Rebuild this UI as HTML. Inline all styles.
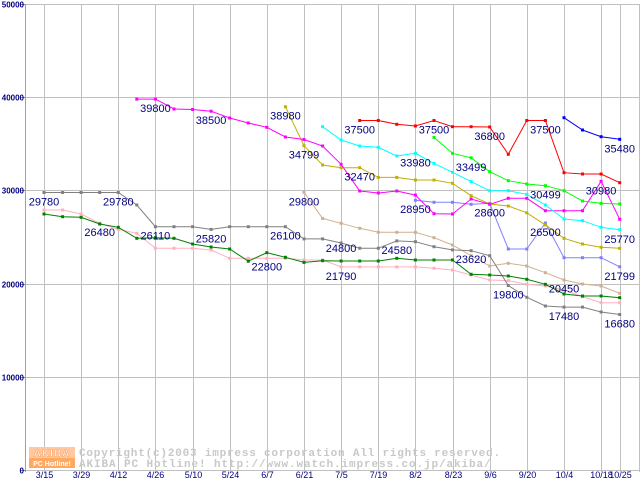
<!DOCTYPE html>
<html><head><meta charset="utf-8"><style>
html,body{margin:0;padding:0;background:#fff;}
svg{display:block;}
</style></head><body>
<svg id="chart" width="640" height="480" viewBox="0 0 640 480" xmlns="http://www.w3.org/2000/svg">
<rect x="0" y="0" width="640" height="480" fill="#fff"/>
<g id="grid"></g>
<g id="yaxis"></g>
<g id="xaxis"></g>
<g id="watermark">
  <rect x="29" y="447" width="46" height="11" fill="#ffc8a0"/>
  <rect x="29" y="458" width="46" height="10" fill="#ffa860"/>
  <text x="52" y="456.5" font-family="Liberation Sans, sans-serif" font-size="10" font-weight="bold" fill="#fff" stroke="#ff9a50" stroke-width="0.5" text-anchor="middle" letter-spacing="1">AKIBA</text>
  <text x="52" y="466" font-family="Liberation Sans, sans-serif" font-size="7" font-weight="bold" fill="#fff" text-anchor="middle">PC Hotline!</text>
  <text x="79" y="456" font-family="Liberation Mono, monospace" font-size="11" font-weight="bold" fill="#c8c8c8" letter-spacing="0.8">Copyright(c)2003 impress corporation All rights reserved.</text>
  <text x="79" y="467" font-family="Liberation Mono, monospace" font-size="11" font-weight="bold" fill="#c8c8c8" letter-spacing="0.9">AKIBA PC Hotline!  http://www.watch.impress.co.jp/akiba/</text>
</g>
<g id="series"></g>
<g id="labels"></g>
</svg>
<script>
const yTicks = [0, 10000, 20000, 30000, 40000, 50000];
const xTickIdx = [0,2,4,6,8,10,12,14,16,18,20,22,24,26,28,30,31];
const xTickLabels = ['3/15','3/29','4/12','4/26','5/10','5/24','6/7','6/21','7/5','7/19','8/2','8/23','9/6','9/20','10/4','10/18','10/25'];

const grayStart = 0;
const grayValues = [29780,29780,29780,29780,29780,28430,26110,26110,26110,25820,26110,26110,26110,26100,24800,24800,24360,23800,23800,24580,24500,23960,23620,23530,22990,19800,18530,17600,17480,17480,16950,16680];
const greenStart = 0;
const greenValues = [27470,27180,27110,26390,26040,24860,24930,24860,24250,23930,23710,22400,23320,22820,22280,22460,22420,22420,22420,22710,22530,22530,22530,21000,20920,20820,20460,19920,18880,18670,18670,18490];
const pinkStart = 0;
const pinkValues = [27900,27900,27470,26470,25820,25400,23790,23790,23790,23600,22710,22710,22710,22710,22530,22530,21790,21790,21790,21790,21790,21640,21460,20920,20390,20320,19920,19740,19310,18600,17950,17950];
const magentaStart = 5;
const magentaValues = [39800,39800,38730,38680,38500,37770,37230,36770,35730,35460,34760,32800,29940,29720,29940,29500,27500,27470,29080,28510,29150,29150,27820,27820,27820,30980,26900];
const oliveStart = 13;
const oliveValues = [38980,34799,32720,32440,32440,31400,31400,31120,31120,30760,29430,28540,28330,27600,26300,24860,24250,23900,23790];
const tanStart = 14;
const tanValues = [29800,27000,26470,25930,25500,25500,25500,24930,24140,23000,21890,22180,21890,21170,20390,19960,19740,18960];
const cyanStart = 15;
const cyanValues = [36840,35410,34760,34620,33690,33980,32900,31940,30940,29970,29970,29580,28430,26930,26750,26040,25770];
const redStart = 17;
const redValues = [37500,37500,37090,36910,37500,36840,36840,36800,33870,37500,37500,31900,31760,31760,30830];
const limeStart = 21;
const limeValues = [35690,33980,33499,32010,31040,30690,30499,29970,28860,28610,28540];
const slateStart = 20;
const slateValues = [28950,28720,28720,28510,28600,23710,23710,26500,22780,22780,22780,21799];
const blueStart = 28;
const blueValues = [37800,36480,35760,35480];

const labelValues = [29780,29780,26480,26110,25820,39800,38500,22800,38980,34799,26100,29800,24800,21790,24580,32470,37500,33980,28950,37500,36800,37500,33499,28600,30499,26500,23620,19800,17480,20450,30980,35480,25770,21799,16680];
const labelIdx = [0,4,3,6,9,6,9,12,13,14,13,14,16,16,19,17,17,20,20,21,24,27,23,24,27,27,23,25,28,28,30,31,31,31,31];

const NS = 'http://www.w3.org/2000/svg';
function xScale(i){ return 44 + i * 18.57; }
function yScale(v){ return 470 - v * 0.00932; }
function mk(tag, attrs, parent){
  const e = document.createElementNS(NS, tag);
  for (const k in attrs) e.setAttribute(k, attrs[k]);
  parent.appendChild(e);
  return e;
}
const grid = document.getElementById('grid');
const yaxis = document.getElementById('yaxis');
const xaxis = document.getElementById('xaxis');
const seriesG = document.getElementById('series');
const labelsG = document.getElementById('labels');

yTicks.forEach(function(v){
  const y = Math.round(yScale(v)) + 0.5;
  const l = mk('line', {x1:25, x2:640, y1:y, y2:y, stroke:'#c0c0c0', 'stroke-width':1}, grid);
  
  
  const t = mk('line', {x1:21, x2:25, y1:y, y2:y, stroke:'#808080', 'stroke-width':1}, yaxis);
  
  
  const tx = mk('text', {x:24, y:y+3, 'text-anchor':'end', 'font-family':'Liberation Sans, sans-serif', 'font-size':8, 'font-weight':'bold', fill:'#000080'}, yaxis);
  tx.textContent = String(v);
  
  
});
xTickIdx.forEach(function(idx, k){
  const x = Math.round(xScale(idx)) + 0.5;
  const l = mk('line', {x1:x, x2:x, y1:4, y2:472, stroke:'#c0c0c0', 'stroke-width':1}, grid);
  
  
  const tx = mk('text', {x:x, y:478, 'text-anchor':'middle', 'font-family':'Liberation Sans, sans-serif', 'font-size':9, fill:'#000080'}, xaxis);
  tx.textContent = xTickLabels[k];
  
  
});
const edge = mk('line', {x1:639.5, x2:639.5, y1:4, y2:472, stroke:'#c0c0c0', 'stroke-width':1}, grid);


const ax = mk('line', {x1:25.5, x2:25.5, y1:4, y2:472, stroke:'#a0a0a0', 'stroke-width':1}, yaxis);



function drawSeries(name, start, values, color){
  const g = mk('g', {}, seriesG);
  
  
  const pts = values.map(function(v, j){ return xScale(start + j).toFixed(1) + ',' + yScale(v).toFixed(1); }).join(' ');
  const pl = mk('polyline', {points:pts, fill:'none', stroke:color, 'stroke-width':1}, g);
  
  
  values.forEach(function(v, j){
    const r = mk('rect', {x:(xScale(start + j) - 1.5).toFixed(1), y:(yScale(v) - 1.5).toFixed(1), width:3, height:3, fill:color}, g);
    
    
  });
}
drawSeries('pink', pinkStart, pinkValues, '#ffb0c0');
drawSeries('tan', tanStart, tanValues, '#d0b090');
drawSeries('gray', grayStart, grayValues, '#808080');
drawSeries('green', greenStart, greenValues, '#008000');
drawSeries('slate', slateStart, slateValues, '#8080ff');
drawSeries('olive', oliveStart, oliveValues, '#c0b000');
drawSeries('magenta', magentaStart, magentaValues, '#ff00ff');
drawSeries('cyan', cyanStart, cyanValues, '#00ffff');
drawSeries('lime', limeStart, limeValues, '#00ff00');
drawSeries('red', redStart, redValues, '#ff0000');
drawSeries('blue', blueStart, blueValues, '#0000ff');

labelValues.forEach(function(v, k){
  let x = xScale(labelIdx[k]);
  if (x + 15 > 636) x = 621;
  const t = mk('text', {x:x.toFixed(1), y:(yScale(v) + 13).toFixed(1), 'text-anchor':'middle', 'font-family':'Liberation Sans, sans-serif', 'font-size':11, fill:'#000080'}, labelsG);
  t.textContent = String(v);
  
  
});
</script>
</body></html>
